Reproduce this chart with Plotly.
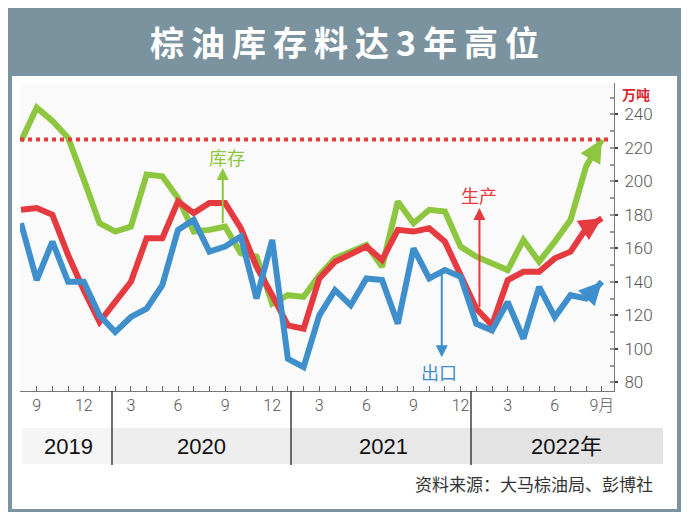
import plotly.graph_objects as go

# ---------------- data ----------------
months = [
    "2019-08", "2019-09", "2019-10", "2019-11", "2019-12",
    "2020-01", "2020-02", "2020-03", "2020-04", "2020-05", "2020-06",
    "2020-07", "2020-08", "2020-09", "2020-10", "2020-11", "2020-12",
    "2021-01", "2021-02", "2021-03", "2021-04", "2021-05", "2021-06",
    "2021-07", "2021-08", "2021-09", "2021-10", "2021-11", "2021-12",
    "2022-01", "2022-02", "2022-03", "2022-04", "2022-05", "2022-06",
    "2022-07", "2022-08", "2022-09",
]
stocks = [224, 244, 236, 226, 201, 175, 170, 173, 204, 203, 190,
          170, 171, 173, 157, 155, 127, 132, 131, 144, 154, 158, 162,
          149, 188, 175, 183, 182, 161, 155, 151, 147, 165, 152, 164,
          177, 209, 225]
production = [183, 184, 180, 156, 135, 116, 128, 140, 166, 166, 188,
              181, 187, 187, 172, 149, 132, 114, 112, 142, 152, 157, 161,
              153, 171, 170, 172, 164, 144, 124, 114, 141, 146, 146, 154,
              158, 172, 178]
exports = [175, 141, 164, 140, 140, 120, 110, 119, 124, 138, 171,
           177, 158, 161, 167, 130, 165, 94, 89, 120, 135, 126, 142,
           141, 115, 160, 142, 147, 143, 115, 111, 128, 106, 137, 119,
           132, 130, 140]
stock_high = 225  # dotted reference line (3-year high)

month_labels = {"2019-09": "9", "2019-12": "12", "2020-03": "3", "2020-06": "6",
                "2020-09": "9", "2020-12": "12", "2021-03": "3", "2021-06": "6",
                "2021-09": "9", "2021-12": "12", "2022-03": "3", "2022-06": "6",
                "2022-09": "9月"}
years = ["2019", "2020", "2021", "2022年"]
y_ticks = [80, 100, 120, 140, 160, 180, 200, 220, 240]

title = "棕油库存料达3年高位"
unit = "万吨"
source = "资料来源：大马棕油局、彭博社"
names = ["库存", "生产", "出口"]

# ---------------- styles ----------------
GREEN = "#8dc63f"
RED = "#e63a41"
BLUE = "#3f8fcd"
FRAME = "#7b929f"
OFF = 8                      # page body margin
W, H = 674, 504
PLOT_L, PLOT_R, PLOT_T, PLOT_B = 20, 614, 83, 391   # page pixels
ML = PLOT_L - OFF
MR = W - (PLOT_R - OFF)
MT = PLOT_T - OFF
MB = H - (PLOT_B - OFF)
PW, PH = PLOT_R - PLOT_L, PLOT_B - PLOT_T


def px(x):
    return (x - PLOT_L) / PW


def py(y):
    return (PLOT_B - y) / PH


fig = go.Figure()
for vals, col, nm in [(stocks, GREEN, names[0]), (production, RED, names[1]),
                      (exports, BLUE, names[2])]:
    fig.add_trace(go.Scatter(x=months, y=vals, mode="lines", name=nm,
                             line=dict(color=col, width=6),
                             showlegend=False, hoverinfo="x+y"))
    # arrow heads at line ends
    fig.add_annotation(x=len(months) - 1, y=vals[-1], ax=len(months) - 2,
                       ay=vals[-2], xref="x", yref="y", axref="x", ayref="y",
                       text="", showarrow=True, arrowhead=2, arrowsize=1.3,
                       arrowwidth=3.5, arrowcolor=col, standoff=0)

# dotted high line
fig.add_shape(type="line", xref="paper", yref="y", x0=0, x1=0.995,
              y0=stock_high, y1=stock_high,
              line=dict(color=RED, width=4, dash="dot"))

# frame & title bar
fig.add_shape(type="rect", xref="paper", yref="paper", x0=px(10), x1=px(679),
              y0=py(8), y1=py(76), fillcolor=FRAME, line=dict(width=0), layer="below")
fig.add_shape(type="rect", xref="paper", yref="paper", x0=px(10), x1=px(679),
              y0=py(8), y1=py(511), line=dict(color=FRAME, width=4), layer="above")

# year band
band_cols = ["#f5f5f5", "#eeeeee", "#e8e8e8", "#e3e3e3"]
bounds = [22, 112, 291, 471, 663]
for i in range(4):
    fig.add_shape(type="rect", xref="paper", yref="paper", x0=px(bounds[i]),
                  x1=px(bounds[i + 1]), y0=py(464), y1=py(428),
                  fillcolor=band_cols[i], line=dict(width=0), layer="below")
for b in bounds[1:4]:
    fig.add_shape(type="line", xref="paper", yref="paper", x0=px(b), x1=px(b),
                  y0=py(391), y1=py(465), line=dict(color="#222", width=1.3))
year_x = [68, 201, 383, 566]
for yr, xx in zip(years, year_x):
    fig.add_annotation(x=px(xx), y=py(446), xref="paper", yref="paper", text=yr,
                       showarrow=False, xanchor="center", yanchor="middle",
                       font=dict(size=22, color="#111",
                                 family="Liberation Sans, Noto Sans CJK SC"))

# series labels with pointer arrows
fig.add_annotation(x=13.1, y=214.5, text=names[0], showarrow=False,
                   xanchor="center", yanchor="middle",
                   font=dict(size=18, color=GREEN, family="Noto Sans CJK SC"))
fig.add_annotation(x=12.85, y=208, ax=12.85, ay=174, axref="x", ayref="y",
                   text="", showarrow=True, arrowhead=2, arrowsize=1.2,
                   arrowwidth=2, arrowcolor=GREEN, standoff=0)
fig.add_annotation(x=29.2, y=192, text=names[1], showarrow=False,
                   xanchor="center", yanchor="middle",
                   font=dict(size=18, color=RED, family="Noto Sans CJK SC"))
fig.add_annotation(x=29.2, y=184, ax=29.2, ay=124, axref="x", ayref="y",
                   text="", showarrow=True, arrowhead=2, arrowsize=1.2,
                   arrowwidth=2, arrowcolor=RED, standoff=0)
fig.add_annotation(x=26.6, y=86, text=names[2], showarrow=False,
                   xanchor="center", yanchor="middle",
                   font=dict(size=18, color=BLUE, family="Noto Sans CJK SC"))
fig.add_annotation(x=26.8, y=95, ax=26.8, ay=145, axref="x", ayref="y",
                   text="", showarrow=True, arrowhead=2, arrowsize=1.2,
                   arrowwidth=2, arrowcolor=BLUE, standoff=0)

# title, unit, source
fig.add_annotation(x=px(348), y=py(42), xref="paper", yref="paper", text=title,
                   showarrow=False, xanchor="center", yanchor="middle",
                   font=dict(size=34, color="white", family="Noto Sans CJK SC", weight="bold"))
fig.add_annotation(x=px(636), y=py(94), xref="paper", yref="paper", text=unit,
                   showarrow=False, xanchor="center", yanchor="middle",
                   font=dict(size=14, color="#d8262e", family="Noto Sans CJK SC", weight="bold"))
fig.add_annotation(x=px(655), y=py(483), xref="paper", yref="paper", text=source,
                   showarrow=False, xanchor="right", yanchor="middle",
                   font=dict(size=17, color="#333", family="Noto Sans CJK SC"))

fig.update_layout(
    width=W, height=H, autosize=False,
    margin=dict(l=ML, r=MR, t=MT, b=MB, pad=0),
    paper_bgcolor="white", plot_bgcolor="#fafafa",
    showlegend=False,
    xaxis=dict(type="category", range=[-0.064, 37.77],
               tickmode="array", tickvals=months,
               ticktext=[month_labels.get(m, "") for m in months],
               ticks="inside", ticklen=5, tickcolor="#666", tickwidth=1,
               showline=True, linecolor="#777", linewidth=1,
               showgrid=False, zeroline=False,
               tickfont=dict(size=16, color="#555", family="Roboto, Noto Sans CJK SC", weight=300)),
    yaxis=dict(side="right", range=[74.8, 258.7], tickvals=y_ticks,
               ticks="outside", ticklen=3, tickcolor="#444", tickwidth=2,
               ticklabelstandoff=3,
               minor=dict(ticks="inside", ticklen=4, tickcolor="#999", dtick=10, tick0=0, showgrid=False),
               showline=True, linecolor="#777", linewidth=1,
               showgrid=False, zeroline=False,
               tickfont=dict(size=17, color="#555", family="Roboto", weight=300)),
)

# widen the title's letter spacing like the reference headline
post = """
document.querySelectorAll('text.annotation-text').forEach(function(e){
  if (e.textContent === '%s') { e.style.letterSpacing = '7px'; }
});
""" % title

fig.write_html("out.html", post_script=post)
